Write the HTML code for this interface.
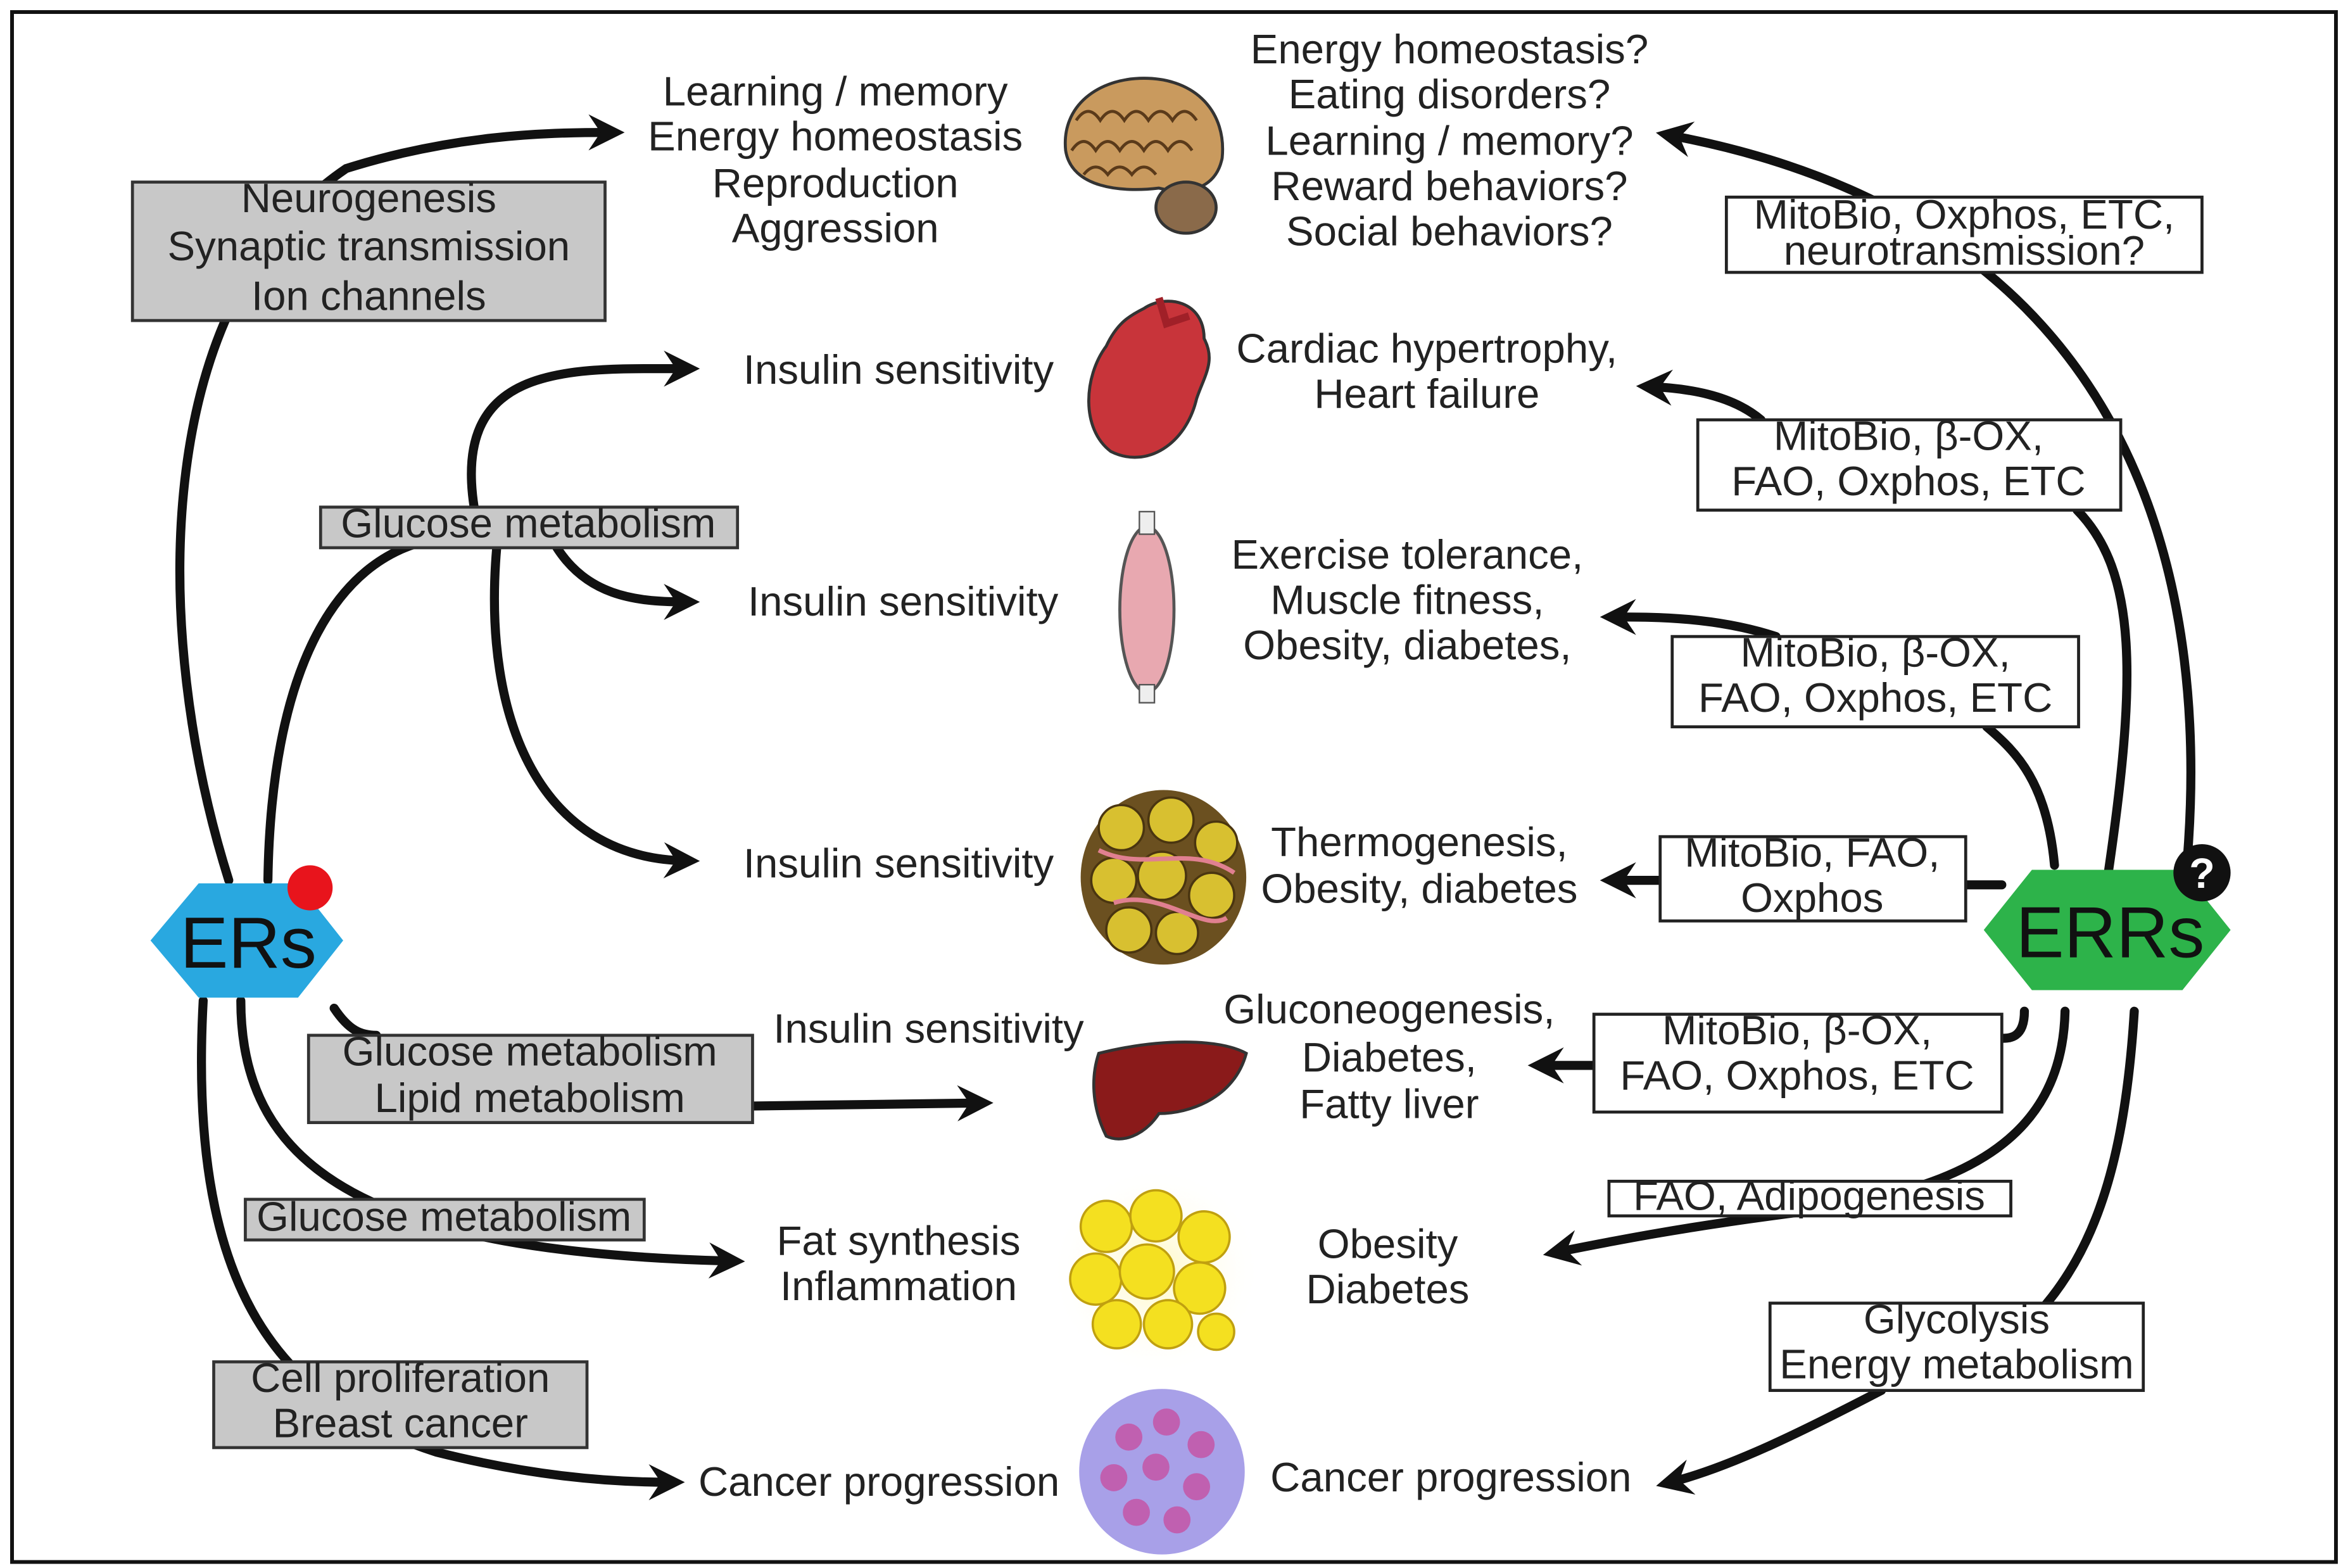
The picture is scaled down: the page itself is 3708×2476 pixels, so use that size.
<!DOCTYPE html>
<html><head><meta charset="utf-8"><style>
html,body{margin:0;padding:0;background:#fff;}
svg{display:block;}
text{font-family:"Liberation Sans",sans-serif;font-size:27.5px;fill:#222;}
</style></head><body>
<svg width="3708" height="2476" viewBox="0 0 1560 1042" preserveAspectRatio="none" xmlns="http://www.w3.org/2000/svg">
<defs>
<marker id="a" markerUnits="userSpaceOnUse" markerWidth="30" markerHeight="30" refX="14" refY="12" orient="auto">
<path d="M0,0 L24,12 L0,24 L8,12 z" fill="#111"/>
</marker>
<radialGradient id="fatg" cx="50%" cy="50%" r="50%"><stop offset="0" stop-color="#fff8c0"/><stop offset="1" stop-color="#fff" stop-opacity="0"/></radialGradient>
</defs>
<rect x="8" y="8" width="1544" height="1030" fill="#fff" stroke="#111" stroke-width="2.5"/>

<g fill="none" stroke="#111" stroke-width="6" stroke-linecap="round">
<path d="M152,585 C100,420 100,200 230,112 C300,90 360,88 405,88" marker-end="url(#a)"/>
<path d="M178,585 C180,450 220,370 290,358"/>
<path d="M315,337 C300,240 380,245 455,245" marker-end="url(#a)"/>
<path d="M370,364 C390,395 420,400 455,400" marker-end="url(#a)"/>
<path d="M330,364 C320,480 360,570 455,572" marker-end="url(#a)"/>
<path d="M222,670 C232,685 240,688 250,688"/>
<path d="M500,735 L650,733" marker-end="url(#a)"/>
<path d="M160,665 C160,780 250,832 485,838" marker-end="url(#a)"/>
<path d="M135,665 C125,850 180,930 290,965 C350,980 400,985 445,985" marker-end="url(#a)"/>
<path d="M1452,585 C1470,400 1430,150 1110,90" marker-end="url(#a)"/>
<path d="M1400,585 C1420,450 1420,380 1380,339"/>
<path d="M1170,279 C1150,262 1120,258 1097,257" marker-end="url(#a)"/>
<path d="M1365,575 C1360,520 1340,500 1320,483"/>
<path d="M1180,423 C1140,410 1100,410 1073,410" marker-end="url(#a)"/>
<path d="M1330,588 L1306,588"/>
<path d="M1103,585 L1073,585" marker-end="url(#a)"/>
<path d="M1345,672 C1345,690 1335,690 1330,690"/>
<path d="M1059,708 L1025,708" marker-end="url(#a)"/>
<path d="M1372,672 C1370,760 1300,790 1200,805 C1120,815 1070,825 1035,832" marker-end="url(#a)"/>
<path d="M1418,672 C1410,800 1380,870 1300,915"/>
<path d="M1250,924 C1200,950 1150,975 1110,985" marker-end="url(#a)"/>
</g>

<g fill="#c8c8c8" stroke="#333" stroke-width="2">
<rect x="88" y="121" width="314" height="92"/>
<rect x="213" y="337" width="277" height="27"/>
<rect x="205" y="688" width="295" height="58"/>
<rect x="163" y="797" width="265" height="27"/>
<rect x="142" y="905" width="248" height="57"/>
</g>
<g text-anchor="middle">
<text x="245" y="141">Neurogenesis</text>
<text x="245" y="173">Synaptic transmission</text>
<text x="245" y="206">Ion channels</text>
<text x="351" y="357">Glucose metabolism</text>
<text x="352" y="708">Glucose metabolism</text>
<text x="352" y="739">Lipid metabolism</text>
<text x="295" y="818">Glucose metabolism</text>
<text x="266" y="925">Cell proliferation</text>
<text x="266" y="955">Breast cancer</text>
</g>

<g fill="#fff" stroke="#222" stroke-width="2">
<rect x="1147" y="131" width="316" height="50"/>
<rect x="1128" y="279" width="281" height="60"/>
<rect x="1111" y="423" width="270" height="60"/>
<rect x="1103" y="556" width="203" height="56"/>
<rect x="1059" y="674" width="271" height="65"/>
<rect x="1069" y="785" width="267" height="23"/>
<rect x="1176" y="866" width="248" height="58"/>
</g>
<g text-anchor="middle">
<text x="1305" y="152">MitoBio, Oxphos, ETC,</text>
<text x="1305" y="176">neurotransmission?</text>
<text x="1268" y="299">MitoBio, β-OX,</text>
<text x="1268" y="329">FAO, Oxphos, ETC</text>
<text x="1246" y="443">MitoBio, β-OX,</text>
<text x="1246" y="473">FAO, Oxphos, ETC</text>
<text x="1204" y="576">MitoBio, FAO,</text>
<text x="1204" y="606">Oxphos</text>
<text x="1194" y="694">MitoBio, β-OX,</text>
<text x="1194" y="724">FAO, Oxphos, ETC</text>
<text x="1202" y="804">FAO, Adipogenesis</text>
<text x="1300" y="886">Glycolysis</text>
<text x="1300" y="916">Energy metabolism</text>
</g>

<g text-anchor="middle">
<text x="555" y="70">Learning / memory</text>
<text x="555" y="100">Energy homeostasis</text>
<text x="555" y="131">Reproduction</text>
<text x="555" y="161">Aggression</text>
<text x="963" y="42">Energy homeostasis?</text>
<text x="963" y="72">Eating disorders?</text>
<text x="963" y="103">Learning / memory?</text>
<text x="963" y="133">Reward behaviors?</text>
<text x="963" y="163">Social behaviors?</text>
<text x="597" y="255">Insulin sensitivity</text>
<text x="600" y="409">Insulin sensitivity</text>
<text x="597" y="583">Insulin sensitivity</text>
<text x="617" y="693">Insulin sensitivity</text>
<text x="948" y="241">Cardiac hypertrophy,</text>
<text x="948" y="271">Heart failure</text>
<text x="935" y="378">Exercise tolerance,</text>
<text x="935" y="408">Muscle fitness,</text>
<text x="935" y="438">Obesity, diabetes,</text>
<text x="943" y="569">Thermogenesis,</text>
<text x="943" y="600">Obesity, diabetes</text>
<text x="923" y="680">Gluconeogenesis,</text>
<text x="923" y="712">Diabetes,</text>
<text x="923" y="743">Fatty liver</text>
<text x="597" y="834">Fat synthesis</text>
<text x="597" y="864">Inflammation</text>
<text x="922" y="836">Obesity</text>
<text x="922" y="866">Diabetes</text>
<text x="584" y="994">Cancer progression</text>
<text x="964" y="991">Cancer progression</text>
</g>

<g>
<path d="M708,100 C705,70 730,52 760,52 C795,52 815,75 812,105 C808,125 790,130 770,125 C745,128 712,125 708,100 z" fill="#c99a5e" stroke="#333" stroke-width="2"/>
<path d="M715,80 q8,-12 16,0 q8,-12 16,0 q8,-12 16,0 q8,-12 16,0 q8,-12 16,0 M712,100 q8,-12 16,0 q8,-12 16,0 q8,-12 16,0 q8,-12 16,0 q8,-12 16,0 M720,116 q8,-10 16,0 q8,-10 16,0 q8,-10 16,0" fill="none" stroke="#5a3a1a" stroke-width="2"/>
<ellipse cx="788" cy="138" rx="20" ry="17" fill="#8a6a4a" stroke="#333" stroke-width="2"/>
<path d="M760,205 C775,195 800,200 800,225 C808,240 800,250 795,265 C788,295 762,312 738,300 C718,285 720,250 735,230 C742,215 750,210 760,205 z" fill="#c8343a" stroke="#333" stroke-width="2"/>
<path d="M770,198 L775,215 L790,210" fill="none" stroke="#a02028" stroke-width="5"/>
<ellipse cx="762" cy="405" rx="18" ry="55" fill="#e8a8b0" stroke="#555" stroke-width="2"/>
<rect x="757" y="340" width="10" height="15" fill="#eee" stroke="#555"/>
<rect x="757" y="455" width="10" height="12" fill="#eee" stroke="#555"/>
<circle cx="773" cy="583" r="68" fill="url(#fatg)"/>
<ellipse cx="773" cy="583" rx="55" ry="58" fill="#6b5020"/>
<g fill="#d8c030" stroke="#4a3510" stroke-width="1.5">
<circle cx="745" cy="550" r="15"/><circle cx="778" cy="545" r="15"/><circle cx="808" cy="560" r="14"/>
<circle cx="740" cy="585" r="15"/><circle cx="772" cy="582" r="16"/><circle cx="805" cy="595" r="15"/>
<circle cx="750" cy="618" r="15"/><circle cx="782" cy="620" r="14"/>
</g>
<path d="M730,565 C760,580 790,560 820,580 M740,600 C770,590 800,620 815,610" fill="none" stroke="#e08090" stroke-width="3"/>
<path d="M730,700 C770,690 810,690 828,700 C820,730 790,740 770,740 C760,755 745,760 735,755 C725,735 725,715 730,700 z" fill="#8a1a1a" stroke="#333" stroke-width="2"/>
<circle cx="768" cy="845" r="70" fill="url(#fatg)"/>
<g fill="#f4e020" stroke="#c0a010" stroke-width="1.5">
<circle cx="735" cy="815" r="17"/><circle cx="768" cy="808" r="17"/><circle cx="800" cy="822" r="17"/>
<circle cx="728" cy="850" r="17"/><circle cx="762" cy="845" r="18"/><circle cx="797" cy="856" r="17"/>
<circle cx="742" cy="880" r="16"/><circle cx="776" cy="880" r="16"/><circle cx="808" cy="885" r="12"/>
</g>
<circle cx="772" cy="978" r="55" fill="#a8a0e8"/>
<g fill="#c060b0">
<circle cx="750" cy="955" r="9"/><circle cx="775" cy="945" r="9"/><circle cx="798" cy="960" r="9"/>
<circle cx="740" cy="982" r="9"/><circle cx="768" cy="975" r="9"/><circle cx="795" cy="988" r="9"/>
<circle cx="755" cy="1005" r="9"/><circle cx="782" cy="1010" r="9"/>
</g>
</g>

<polygon points="100,625 132,587 198,587 228,625 198,663 132,663" fill="#29a8e0"/>
<text x="165" y="643" text-anchor="middle" style="font-size:48px;fill:#111">ERs</text>
<circle cx="206" cy="590" r="15" fill="#e8141c"/>
<polygon points="1318,618 1350,578 1450,578 1482,618 1450,658 1350,658" fill="#2db34a"/>
<text x="1402" y="636" text-anchor="middle" style="font-size:48px;fill:#111">ERRs</text>
<circle cx="1463" cy="580" r="19" fill="#111"/>
<text x="1463" y="590" text-anchor="middle" style="font-size:28px;font-weight:bold;fill:#fff">?</text>
</svg>
</body></html>
